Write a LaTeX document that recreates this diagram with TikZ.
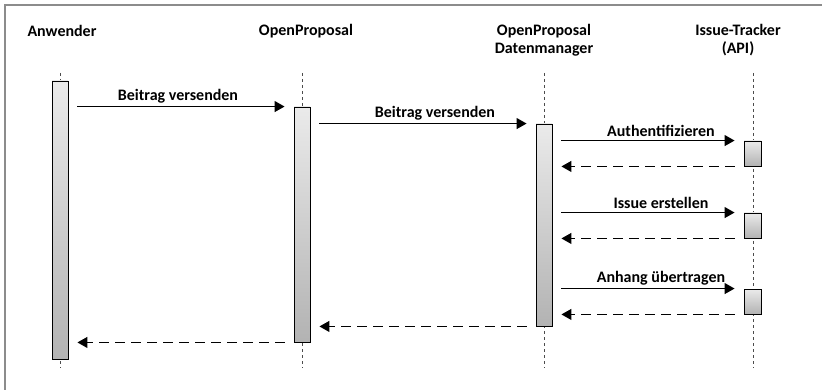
\documentclass[tikz,border=0pt]{standalone}
\usepackage{fontspec}
\setmainfont{Carlito}
\usetikzlibrary{arrows.meta,shadows}
\begin{document}
\begin{tikzpicture}[x=1pt,y=-1pt,
  head/.style={font=\bfseries\fontsize{16}{18}\selectfont,align=center,inner sep=0pt},
  lifeline/.style={draw=black!70,line width=0.9pt,dash pattern=on 3pt off 3pt},
  actbox/.style={draw=black,line width=0.9pt,minimum width=16pt,inner sep=0pt,
    top color=black!8,bottom color=black!30,
    drop shadow={shadow xshift=1pt,shadow yshift=-1pt,opacity=0.25}},
  msg/.style={line width=1.2pt,-{Triangle[length=10pt,width=11pt]},shorten <=9pt,shorten >=9pt},
  reply/.style={msg,dash pattern=on 10pt off 6pt},
  lbl/.style={font=\bfseries\fontsize{16}{18}\selectfont,above,inner sep=3pt}]
  \useasboundingbox (0,0) rectangle (822,390);
  % frame
  \draw[black!45,line width=2pt] (5,390) -- (5,5) -- (822,5);
  % participants
  \node[head] (hanw) at (62,31) {Anwender};
  \node[head] (hopp) at (306,31) {OpenProposal};
  \node[head] (hdm) at (544,40) {OpenProposal\\Datenmanager};
  \node[head] (hit) at (738,40) {Issue-Tracker\\(API)};
  \coordinate (top) at (0,73);
  \coordinate (bot) at (0,368);
  % lifelines
  \draw[lifeline] (top -| 60,0) -- (bot -| 60,0);
  \draw[lifeline] (top -| 302,0) -- (bot -| 302,0);
  \draw[lifeline] (top -| 544,0) -- (bot -| 544,0);
  \draw[lifeline] (top -| 753,0) -- (bot -| 753,0);
  % activations
  \node[actbox,minimum height=278pt] (anw) at (60,220) {};
  \node[actbox,minimum height=235pt] (opp) at (302,224.5) {};
  \node[actbox,minimum height=202pt] (dm) at (544,225) {};
  \node[actbox,minimum width=17pt,minimum height=25pt] (it1) at (752.5,153.5) {};
  \node[actbox,minimum width=17pt,minimum height=25pt] (it2) at (752.5,225.5) {};
  \node[actbox,minimum width=17pt,minimum height=25pt] (it3) at (752.5,301.5) {};
  % messages
  \draw[msg] (anw.east |- opp.north west) -- node[lbl,xshift=-3pt] {Beitrag versenden} (opp.north west);
  \draw[msg] (opp.east |- dm.north west) -- node[lbl,xshift=12pt] {Beitrag versenden} (dm.north west);
  \draw[msg] (dm.east |- it1.north west) -- node[lbl,xshift=13pt] {Authentifizieren} (it1.north west);
  \draw[reply] (it1.south west) -- (dm.east |- it1.south west);
  \draw[msg] (dm.east |- it2.north west) -- node[lbl,xshift=13pt] {Issue erstellen} (it2.north west);
  \draw[reply] (it2.south west) -- (dm.east |- it2.south west);
  \draw[msg] (dm.east |- it3.north west) -- node[lbl,xshift=13pt] {Anhang übertragen} (it3.north west);
  \draw[reply] (it3.south west) -- (dm.east |- it3.south west);
  \draw[reply] (dm.south west) -- (opp.east |- dm.south west);
  \draw[reply] (opp.south west) -- (anw.east |- opp.south west);
\end{tikzpicture}
\end{document}
